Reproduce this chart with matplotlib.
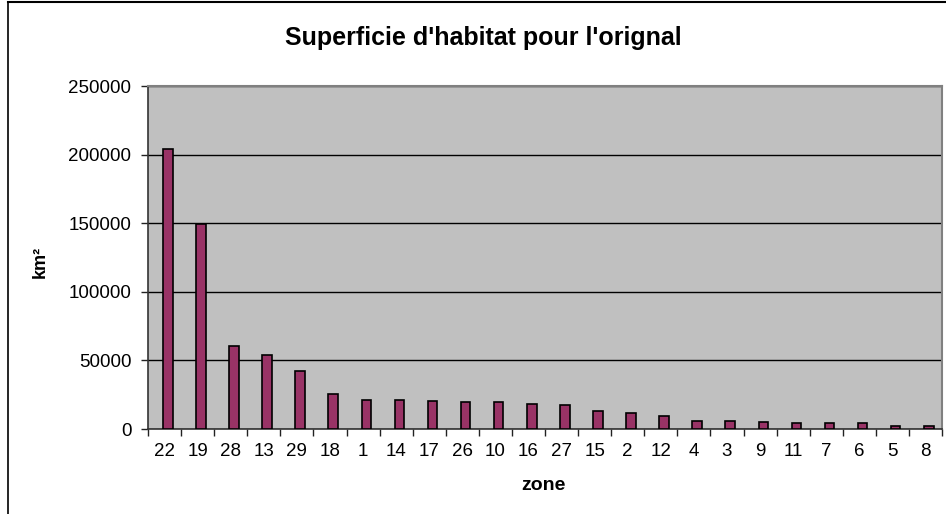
import matplotlib
matplotlib.use("Agg")
import matplotlib.pyplot as plt
import numpy as np
from matplotlib.lines import Line2D

zones = ["22", "19", "28", "13", "29", "18", "1", "14", "17", "26", "10", "16",
         "27", "15", "2", "12", "4", "3", "9", "11", "7", "6", "5", "8"]
area = [204000, 149500, 60500, 53900, 42500, 25200, 21400, 21300, 20400, 19400,
        19400, 18400, 17500, 12800, 11900, 9700, 6000, 6000, 5100, 4100, 4100,
        4100, 2200, 2200]
yticks = [0, 50000, 100000, 150000, 200000, 250000]

plt.rcParams['font.family'] = ['Liberation Sans', 'DejaVu Sans']

fig = plt.figure(figsize=(9.46, 5.14), dpi=100)
W, H = 946, 514
ax = fig.add_axes([148 / W, 1 - 429 / H, (942 - 148) / W, (429 - 86) / H])
ax.set_facecolor('#C0C0C0')

x = np.arange(len(zones))
bar_shift = 0.1  # Excel-style slight right offset of bars within category
ax.bar(x + bar_shift, area, width=0.29, color='#993366', edgecolor='black',
       linewidth=1.2, zorder=3)

ax.set_xlim(-0.5, len(zones) - 0.5)
ax.set_ylim(0, 250000)
ax.set_yticks(yticks)
ax.set_yticklabels([str(v) for v in yticks], fontsize=13.5)
ax.set_xticks(x)
ax.set_xticklabels(zones, fontsize=13.5)
ax.tick_params(axis='x', which='major', length=0, pad=10)
ax.set_xticks(np.arange(-0.5, len(zones), 1), minor=True)
ax.tick_params(axis='x', which='minor', length=5, width=1, color='#222222', direction='out')
ax.tick_params(axis='y', length=5, width=1, color='#222222', direction='out', pad=7)

ax.yaxis.grid(True, color='black', linewidth=1, zorder=1)
ax.set_axisbelow(True)

for s in ['top', 'right']:
    ax.spines[s].set_color('#808080')
    ax.spines[s].set_linewidth(1.5)
for s in ['left', 'bottom']:
    ax.spines[s].set_color('#333333')
    ax.spines[s].set_linewidth(1.2)

fig.text(483 / W, 1 - 38 / H, "Superficie d'habitat pour l'orignal",
         ha='center', va='center', fontsize=18, fontweight='bold')
fig.text(543 / W, 1 - 486 / H, "zone", ha='center', va='center',
         fontsize=14, fontweight='bold')
fig.text(40 / W, 1 - 262 / H, "km²", ha='center', va='center', rotation=90,
         fontsize=13, fontweight='bold')

# chart border (left and top visible)
fig.add_artist(Line2D([8 / W, 8 / W], [0, 1 - 2 / H], color='black', linewidth=1.2,
                      transform=fig.transFigure))
fig.add_artist(Line2D([8 / W, 1], [1 - 2 / H, 1 - 2 / H], color='black', linewidth=1.5,
                      transform=fig.transFigure))

fig.savefig('out.png', dpi=100, facecolor='white')
